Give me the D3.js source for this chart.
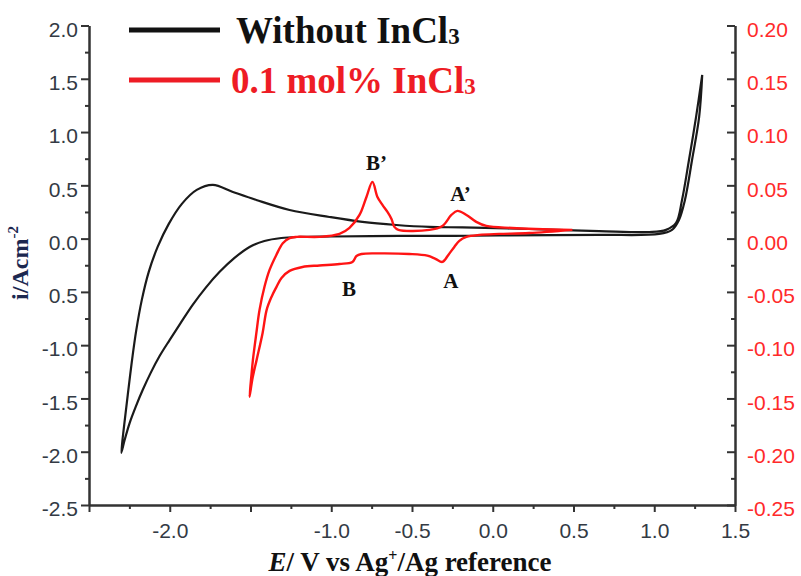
<!DOCTYPE html>
<html>
<head>
<meta charset="utf-8">
<script src="https://cdn.jsdelivr.net/npm/d3@7"></script>
<style>
  body { margin: 0; background: #fff; }
  svg { display: block; }
</style>
</head>
<body>
<svg id="chart" width="801" height="576"></svg>
<script>
// Potential axis (V vs Ag+/Ag)
const potentialTicks = [-2.5, -2.0, -1.5, -1.0, -0.5, 0.0, 0.5, 1.0, 1.5];
const potentialLabels = ["", "-2.0", "", "-1.0", "-0.5", "0.0", "0.5", "1.0", "1.5"];

// Left current axis (A cm-2), blank electrolyte
const leftTicks = [2.0, 1.5, 1.0, 0.5, 0.0, -0.5, -1.0, -1.5, -2.0, -2.5];
const leftLabels = ["2.0", "1.5", "1.0", "0.5", "0.0", "0.5", "-1.0", "-1.5", "-2.0", "-2.5"];

// Right current axis (A cm-2), InCl3 solution
const rightTicks = [0.20, 0.15, 0.10, 0.05, 0.00, -0.05, -0.10, -0.15, -0.20, -0.25];
const rightLabels = ["0.20", "0.15", "0.10", "0.05", "0.00", "-0.05", "-0.10", "-0.15", "-0.20", "-0.25"];

// Cyclic voltammogram without InCl3: [E, i]
const blankCV = [
  [1.297, 1.536], [1.278, 1.142], [1.234, 0.738], [1.190, 0.363], [1.153, 0.175],
  [1.110, 0.082], [1.030, 0.044], [0.659, 0.035], [0.040, 0.030], [-0.238, 0.025],
  [-0.578, 0.025], [-1.000, 0.020], [-1.196, 0.016], [-1.309, 0.006], [-1.414, -0.022],
  [-1.506, -0.078], [-1.599, -0.181], [-1.691, -0.312], [-1.778, -0.462], [-1.858, -0.622],
  [-1.932, -0.791], [-2.000, -0.950], [-2.062, -1.100], [-2.118, -1.260], [-2.167, -1.419],
  [-2.211, -1.579], [-2.248, -1.729], [-2.279, -1.888], [-2.300, -2.011],
  [-2.282, -1.748], [-2.260, -1.467], [-2.235, -1.157], [-2.207, -0.857], [-2.173, -0.575],
  [-2.130, -0.312], [-2.075, -0.078], [-2.006, 0.138], [-1.925, 0.326], [-1.833, 0.457],
  [-1.733, 0.504], [-1.609, 0.438], [-1.464, 0.363], [-1.258, 0.269], [-1.011, 0.203],
  [-0.807, 0.157], [-0.597, 0.128], [-0.392, 0.110], [-0.188, 0.105], [0.226, 0.090],
  [0.659, 0.071], [0.968, 0.062], [1.073, 0.082], [1.135, 0.147], [1.172, 0.363],
  [1.215, 0.738], [1.259, 1.142], [1.297, 1.536]
];

// Cyclic voltammogram with 0.1 mol% InCl3: [E, i]
const indiumCV = [
  [0.493, 0.0082], [0.226, 0.0052], [0.040, 0.0044], [-0.083, 0.0035], [-0.163, 0.0016],
  [-0.207, -0.0021], [-0.238, -0.0078], [-0.275, -0.0153], [-0.312, -0.0219], [-0.355, -0.0190],
  [-0.405, -0.0160], [-0.517, -0.0144], [-0.701, -0.0139], [-0.813, -0.0144], [-0.844, -0.0163],
  [-0.869, -0.0219], [-0.949, -0.0238], [-1.073, -0.0252], [-1.178, -0.0266], [-1.258, -0.0303],
  [-1.308, -0.0369], [-1.339, -0.0453], [-1.370, -0.0547], [-1.400, -0.0669], [-1.425, -0.0885],
  [-1.462, -0.1138], [-1.487, -0.1307], [-1.506, -0.1485],
  [-1.495, -0.1295], [-1.485, -0.1138], [-1.464, -0.0889], [-1.444, -0.0669], [-1.413, -0.0450],
  [-1.382, -0.0294], [-1.340, -0.0153], [-1.300, -0.0043], [-1.258, 0.0004], [-1.215, 0.0016],
  [-1.073, 0.0016], [-0.949, 0.0044], [-0.887, 0.0101], [-0.825, 0.0222], [-0.782, 0.0391],
  [-0.745, 0.0532], [-0.714, 0.0391], [-0.683, 0.0316], [-0.652, 0.0250], [-0.627, 0.0185],
  [-0.609, 0.0110], [-0.584, 0.0082], [-0.392, 0.0082], [-0.312, 0.0119], [-0.256, 0.0222],
  [-0.219, 0.0260], [-0.163, 0.0222], [-0.102, 0.0157], [-0.040, 0.0119], [0.121, 0.0100],
  [0.493, 0.0082]
];

// Peak labels: [text, E, i on right axis]
const peakLabels = [
  ["B\u2019", -0.72, 0.064],
  ["A\u2019", -0.20, 0.035],
  ["B", -0.89, -0.054],
  ["A", -0.26, -0.046]
];

const legendItems = [
  { name: "Without InCl", sub: "3", color: "#111111" },
  { name: "0.1 mol% InCl", sub: "3", color: "#ee1c25" }
];

const svg = d3.select("#chart");
const plotLeft = 89, plotRight = 735, plotTop = 25.5, plotBottom = 505;

const x = d3.scaleLinear().domain([-2.5, 1.5]).range([plotLeft, plotRight]);
const yL = d3.scaleLinear().domain([-2.5, 2.0]).range([plotBottom, plotTop]);
const yR = d3.scaleLinear().domain([-0.25, 0.20]).range([plotBottom, plotTop]);

const axisColor = "#333";
const tickFont = "'Liberation Sans', Arial, sans-serif";
const serif = "'Liberation Serif', 'Times New Roman', serif";

function styleAxis(g, textColor) {
  g.selectAll("path.domain").attr("stroke", axisColor).attr("stroke-width", 2);
  g.selectAll(".tick line").attr("stroke", axisColor).attr("stroke-width", 2);
  g.selectAll(".tick text")
    .attr("fill", textColor)
    .style("font-family", tickFont)
    .style("font-size", "21px");
}

// minor ticks
const minorX = d3.range(-2.25, 1.5, 0.5);
const minorL = d3.range(-2.25, 2.0, 0.5);
const minorR = d3.range(-0.225, 0.2, 0.05);

// bottom axis
svg.append("g").attr("transform", `translate(0,${plotBottom})`)
  .call(d3.axisBottom(x).tickValues(minorX).tickFormat("").tickSize(4).tickSizeOuter(0))
  .call(g => styleAxis(g, axisColor));
svg.append("g").attr("transform", `translate(0,${plotBottom})`)
  .call(d3.axisBottom(x).tickValues(potentialTicks)
    .tickFormat((d, i) => potentialLabels[i]).tickSize(7).tickSizeOuter(0).tickPadding(11))
  .call(g => styleAxis(g, "#333a44"));

// left axis
svg.append("g").attr("transform", `translate(${plotLeft},0)`)
  .call(d3.axisLeft(yL).tickValues(minorL).tickFormat("").tickSize(4).tickSizeOuter(0))
  .call(g => styleAxis(g, axisColor));
svg.append("g").attr("transform", `translate(${plotLeft},0)`)
  .call(d3.axisLeft(yL).tickValues(leftTicks)
    .tickFormat((d, i) => leftLabels[i]).tickSize(8).tickSizeOuter(0).tickPadding(3))
  .call(g => styleAxis(g, "#333a44"))
  .call(g => g.selectAll(".tick text").attr("y", 4));

// right axis (ticks point inward)
svg.append("g").attr("transform", `translate(${plotRight},0)`)
  .call(d3.axisRight(yR).tickValues(minorR).tickFormat("").tickSize(-4).tickSizeOuter(0))
  .call(g => styleAxis(g, axisColor));
svg.append("g").attr("transform", `translate(${plotRight},0)`)
  .call(d3.axisRight(yR).tickValues(rightTicks)
    .tickFormat((d, i) => rightLabels[i]).tickSize(-8).tickSizeOuter(0).tickPadding(12))
  .call(g => styleAxis(g, "#ff2a2a"))
  .call(g => g.selectAll(".tick text").attr("y", 4));

// voltammograms
const curve = d3.curveCatmullRom.alpha(0.5);
const blankLine = d3.line().x(d => x(d[0])).y(d => yL(d[1])).curve(curve);
const indiumLine = d3.line().x(d => x(d[0])).y(d => yR(d[1])).curve(curve);

svg.append("path").datum(blankCV)
  .attr("d", blankLine)
  .attr("fill", "none").attr("stroke", "#1a1a1a").attr("stroke-width", 2.2)
  .attr("stroke-linejoin", "round");

svg.append("path").datum(indiumCV)
  .attr("d", indiumLine)
  .attr("fill", "none").attr("stroke", "#ff1414").attr("stroke-width", 2.4)
  .attr("stroke-linejoin", "round");

// peak labels
svg.append("g").selectAll("text").data(peakLabels).join("text")
  .attr("x", d => x(d[1])).attr("y", d => yR(d[2]))
  .attr("text-anchor", "middle")
  .attr("fill", "#111")
  .style("font-family", serif).style("font-weight", "bold").style("font-size", "21px")
  .text(d => d[0]);

// legend
const legend = svg.append("g");
legendItems.forEach((item, k) => {
  const ly = 30 + k * 50;
  legend.append("line")
    .attr("x1", 129).attr("x2", 220).attr("y1", ly).attr("y2", ly)
    .attr("stroke", item.color).attr("stroke-width", 5);
  const t = legend.append("text")
    .attr("x", k === 0 ? 236 : 231).attr("y", ly + 13)
    .attr("fill", item.color)
    .style("font-family", serif).style("font-weight", "bold").style("font-size", "37px");
  t.append("tspan").text(item.name);
  t.append("tspan").attr("dy", 1).style("font-size", "23px").text(item.sub);
});

// x-axis title
const xt = svg.append("text")
  .attr("x", 410).attr("y", 571)
  .attr("text-anchor", "middle")
  .attr("fill", "#111")
  .style("font-family", serif).style("font-weight", "bold").style("font-size", "27px");
xt.append("tspan").style("font-style", "italic").text("E");
xt.append("tspan").text("/ V vs Ag");
xt.append("tspan").attr("dy", -10).style("font-size", "16px").text("+");
xt.append("tspan").attr("dy", 10).text("/Ag reference");

// y-axis title
const yt = svg.append("text")
  .attr("transform", "translate(28,263) rotate(-90)")
  .attr("text-anchor", "middle")
  .attr("fill", "#1c2850")
  .style("font-family", serif).style("font-weight", "bold").style("font-size", "24px");
yt.append("tspan").text("i/Acm");
yt.append("tspan").attr("dy", -10).style("font-size", "15px").text("-2");
</script>
</body>
</html>
